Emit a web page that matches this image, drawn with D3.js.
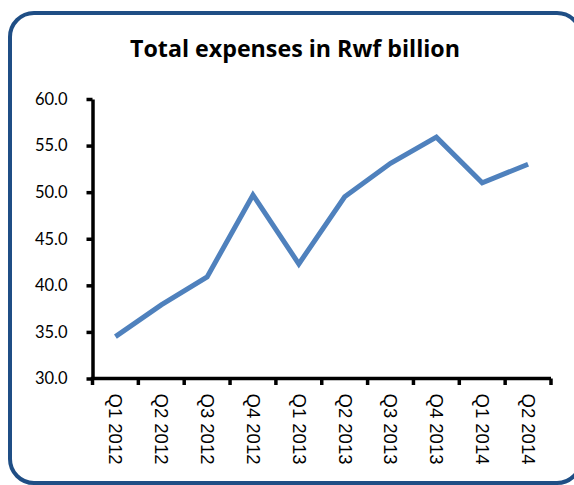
<!DOCTYPE html>
<html>
<head>
<meta charset="utf-8">
<script src="https://cdn.jsdelivr.net/npm/d3@7"></script>
<style>
  html, body { margin: 0; padding: 0; background: #fff; }
  svg { display: block; }
</style>
</head>
<body>
<svg id="chart" width="574" height="485"></svg>
<script>
const title = "Total expenses in Rwf billion";
const categories = ["Q1 2012","Q2 2012","Q3 2012","Q4 2012","Q1 2013","Q2 2013","Q3 2013","Q4 2013","Q1 2014","Q2 2014"];
const expenses = [34.5, 37.9, 40.9, 49.7, 42.3, 49.5, 53.1, 55.9, 51.0, 53.0];
const yTicks = [30, 35, 40, 45, 50, 55, 60];

const svg = d3.select("#chart");

// outer rounded frame
svg.append("rect")
  .attr("x", 10).attr("y", 13)
  .attr("width", 571).attr("height", 470)
  .attr("rx", 24).attr("ry", 24)
  .attr("fill", "#fff")
  .attr("stroke", "#1F4E85")
  .attr("stroke-width", 4);

const t = svg.append("text")
  .attr("x", 295).attr("y", 57)
  .attr("text-anchor", "middle")
  .attr("font-family", "'Open Sans', Lato, sans-serif")
  .attr("font-weight", "bold")
  .attr("font-size", 22)
  .attr("fill", "#000")
  .text(title);
// fit title to the reference width (~330px)
const tw = t.node().getComputedTextLength();
if (tw > 0) t.attr("font-size", Math.max(20, Math.min(24, 22 * 330 / tw)));

const x = d3.scaleBand().domain(categories).range([92.5, 551]).padding(0);
const y = d3.scaleLinear().domain([30, 60]).range([378.5, 99]);

// Y axis
const yAxis = svg.append("g")
  .attr("transform", "translate(92.5,0)")
  .call(d3.axisLeft(y).tickValues(yTicks).tickFormat(d3.format(".1f"))
    .tickSize(6).tickSizeOuter(0).tickPadding(19));
yAxis.select(".domain").attr("stroke", "#000").attr("stroke-width", 3.5);
yAxis.selectAll(".tick line").attr("stroke", "#000").attr("stroke-width", 3.5);
yAxis.selectAll(".tick text")
  .attr("font-family", "Lato, 'Open Sans', sans-serif")
  .attr("font-size", 16.5).attr("fill", "#000");

// X axis
const xAxis = svg.append("g")
  .attr("transform", "translate(0,378.5)")
  .call(d3.axisBottom(x).tickSize(0).tickSizeOuter(0).tickPadding(0));
xAxis.select(".domain").attr("stroke", "#000").attr("stroke-width", 3.5)
  .attr("d", `M${x.range()[0] - 1.75},0H${x.range()[1]}`);
xAxis.selectAll(".tick text")
  .attr("font-family", "'Liberation Sans', Arial, sans-serif")
  .attr("font-size", 18.5).attr("fill", "#000")
  .attr("text-anchor", "start")
  .attr("transform", "translate(0,15) rotate(90)")
  .attr("x", 0).attr("y", 0).attr("dy", "0.33em");

// boundary tick marks (between categories)
const boundaries = categories.map(c => x(c)).concat([x.range()[1]]);
xAxis.selectAll(".bound")
  .data(boundaries)
  .enter().append("line")
  .attr("class", "bound")
  .attr("x1", d => d).attr("x2", d => d)
  .attr("y1", 0).attr("y2", 6.5)
  .attr("stroke", "#000").attr("stroke-width", 3.5);

// line
const line = d3.line()
  .x((d, i) => x(categories[i]) + x.bandwidth() / 2)
  .y(d => y(d));

svg.append("path")
  .datum(expenses)
  .attr("d", line)
  .attr("fill", "none")
  .attr("stroke", "#4F81BD")
  .attr("stroke-width", 5)
  .attr("stroke-linejoin", "miter")
  .attr("stroke-linecap", "butt");
</script>
</body>
</html>
